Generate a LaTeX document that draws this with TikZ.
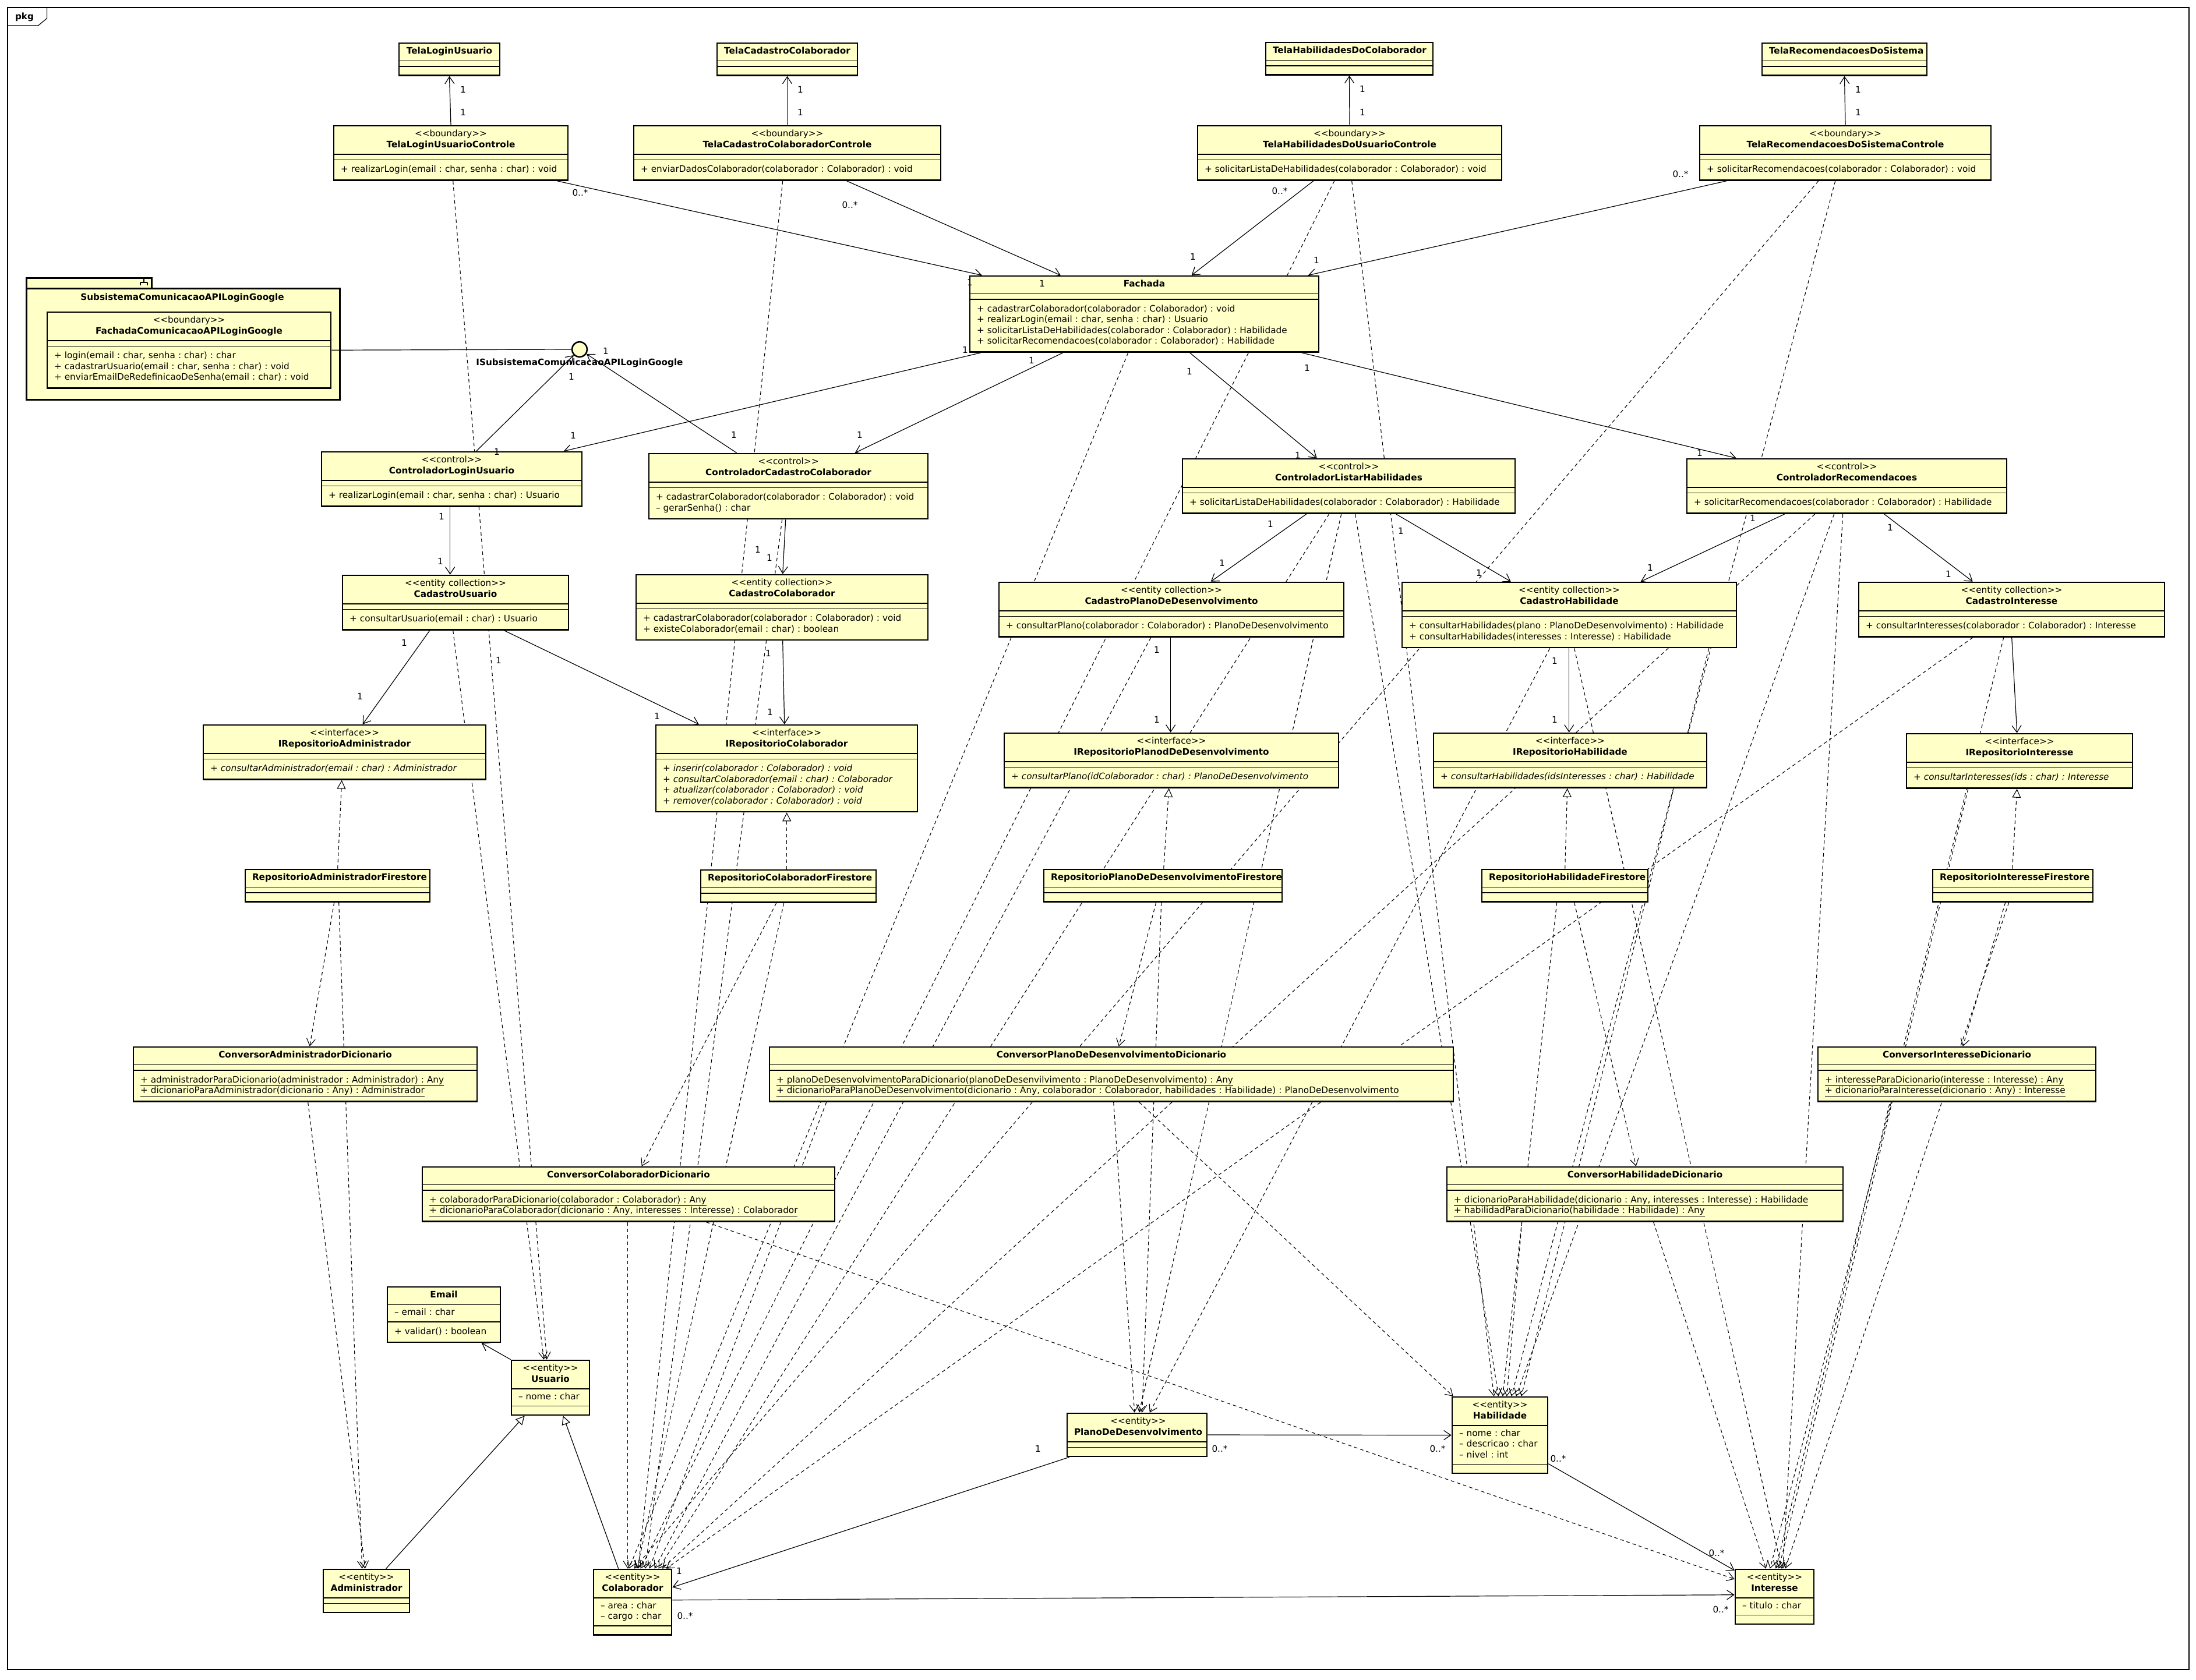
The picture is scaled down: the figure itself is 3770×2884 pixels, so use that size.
\documentclass[tikz,border=0pt]{standalone}
\usepackage{fontspec}
\setmainfont{DejaVu Sans}
\frenchspacing
\usetikzlibrary{arrows.meta,fit}

\definecolor{umlfill}{HTML}{FFFFC8}

\pgfdeclarelayer{back}
\pgfdeclarelayer{wires}
\pgfsetlayers{back,wires,main}

% stereotype guillemets written as two angle brackets
\newcommand\st[1]{<{}<#1>{}>}

% one compartment of a class box, stacked below node #2
\newcommand\umlpart[5]{%
  \if\relax\detokenize{#3}\relax
    \node[comp, text width=\umltw pt, inner ysep=0pt, minimum height=#5] (#1) at (#2.south west) {};
  \else
    \node[comp, align=left, text width=\umltw pt, inner ysep=#4] (#1) at (#2.south west)
      {\noindent\begin{tabular}{@{}l@{}}#3\end{tabular}};
  \fi}

% class box: id, left x, top y, width, header, attributes, operations
\newcommand\umlclass[7]{%
  \pgfmathsetmacro\umltw{#4-24}%
  \node[comp, align=center, text width=\umltw pt, inner ysep=6pt] (#1-h) at (#2,#3)
    {\noindent\begin{tabular}{@{}c@{}}#5\end{tabular}};
  \umlpart{#1-a}{#1-h}{#6}{5.5pt}{9.5pt}%
  \umlpart{#1-o}{#1-a}{#7}{8.25pt}{15.5pt}%
  \node[umlbox, fit=(#1-h)(#1-o)] (#1) {};
  \draw[umlsep] (#1-h.south west) -- (#1-h.south east) (#1-o.north west) -- (#1-o.north east);
}

% dependency from the bottom of #1 to the top of #3
\newcommand\dep[4]{\draw[dep] ([xshift=#2pt]#1.south west) -- ([xshift=#4pt]#3.north west);}
% multiplicity label
\newcommand\mult[3]{\node[mult] (#1) at (#2) {#3};}

\tikzset{
  every node/.style={font=\fontsize{15.25}{18.5}\selectfont},
  comp/.style={anchor=north west, fill=umlfill, inner xsep=12pt, outer sep=0pt},
  umlbox/.style={draw, line width=2.6pt, inner sep=0pt},
  umlsep/.style={line width=1.1pt},
  assoc/.style={line width=1.2pt, -{Straight Barb[length=12pt,width=16pt]}},
  plain/.style={line width=1.2pt},
  dep/.style={line width=1.1pt, dash pattern=on 6pt off 5pt, -{Straight Barb[length=12pt,width=15pt]}},
  real/.style={line width=1.1pt, dash pattern=on 6pt off 5pt, -{Triangle[open,fill=white,length=15pt,width=15pt]}},
  gen/.style={line width=1.2pt, -{Triangle[open,fill=white,length=15pt,width=15pt]}},
  mult/.style={inner sep=0pt},
}

\begin{document}
\begin{tikzpicture}[x=1pt,y=-1pt]
\useasboundingbox (0,0) rectangle (3770,2884);
\begin{pgfonlayer}{back}
  \fill[white] (0,0) rectangle (3770,2884);
  % package frame
  \draw[line width=1.2pt] (13,13) rectangle (3758,2867);
  \draw[line width=1.2pt] (13,44) -- (65.5,44) -- (80.6,31.5) -- (80.6,13);
\end{pgfonlayer}
\node (pkgname) at (42,29) {\textbf{pkg}};

% ---------- screens ----------
\umlclass{tlu}{685}{74}{173}{\textbf{TelaLoginUsuario}}{}{}
\umlclass{tcc}{1231}{74}{241}{\textbf{TelaCadastroColaborador}}{}{}
\umlclass{thc}{2173}{73}{287}{\textbf{TelaHabilidadesDoColaborador}}{}{}
\umlclass{trs}{3025}{74}{283}{\textbf{TelaRecomendacoesDoSistema}}{}{}

% ---------- boundary controllers ----------
\umlclass{tluc}{573}{216}{402}{\st{boundary}\\\textbf{TelaLoginUsuarioControle}}{}
  {+ realizarLogin(email : char, senha : char) : void}
\umlclass{tccc}{1088}{216}{527}{\st{boundary}\\\textbf{TelaCadastroColaboradorControle}}{}
  {+ enviarDadosColaborador(colaborador : Colaborador) : void}
\umlclass{thuc}{2056}{216}{522}{\st{boundary}\\\textbf{TelaHabilidadesDoUsuarioControle}}{}
  {+ solicitarListaDeHabilidades(colaborador : Colaborador) : void}
\umlclass{trsc}{2918}{216}{500}{\st{boundary}\\\textbf{TelaRecomendacoesDoSistemaControle}}{}
  {+ solicitarRecomendacoes(colaborador : Colaborador) : void}

% ---------- facade ----------
\umlclass{fac}{1665}{474}{599}{\textbf{Fachada}}{}
  {+ cadastrarColaborador(colaborador : Colaborador) : void\\
   + realizarLogin(email : char, senha : char) : Usuario\\
   + solicitarListaDeHabilidades(colaborador : Colaborador) : Habilidade\\
   + solicitarRecomendacoes(colaborador : Colaborador) : Habilidade}

% ---------- Google login subsystem ----------
\node[draw, fill=umlfill, line width=2.6pt, minimum width=215pt, minimum height=18pt,
      anchor=north west, inner sep=0pt] (subtab) at (44,476) {};
\node[draw, fill=umlfill, line width=2.6pt, minimum width=538pt, minimum height=191pt,
      anchor=north west, inner sep=0pt] (sub) at (44,494) {};
\draw[line width=1.2pt] (247,478) -- (247,485) (241,485) -- (253,485)
  (241,485) -- (241,490) (253,485) -- (253,490);
\node (subname) at (313,511) {\textbf{SubsistemaComunicacaoAPILoginGoogle}};
\umlclass{fcg}{81}{536}{487}{\st{boundary}\\\textbf{FachadaComunicacaoAPILoginGoogle}}{}
  {+ login(email : char, senha : char) : char\\
   + cadastrarUsuario(email : char, senha : char) : void\\
   + enviarEmailDeRedefinicaoDeSenha(email : char) : void}
\node[draw, circle, fill=umlfill, line width=2.6pt, minimum size=26pt, inner sep=0pt] (lol) at (995,600) {};
\node (lolname) at (995,623) {\textbf{ISubsistemaComunicacaoAPILoginGoogle}};
\draw[plain] (fcg.east) -- (lol.west);

% ---------- controllers ----------
\umlclass{clu}{552}{776}{447}{\st{control}\\\textbf{ControladorLoginUsuario}}{}
  {+ realizarLogin(email : char, senha : char) : Usuario}
\umlclass{ccc}{1114}{779}{479}{\st{control}\\\textbf{ControladorCadastroColaborador}}{}
  {+ cadastrarColaborador(colaborador : Colaborador) : void\\
   – gerarSenha() : char}
\umlclass{clh}{2030}{788}{571}{\st{control}\\\textbf{ControladorListarHabilidades}}{}
  {+ solicitarListaDeHabilidades(colaborador : Colaborador) : Habilidade}
\umlclass{cre}{2896}{788}{549}{\st{control}\\\textbf{ControladorRecomendacoes}}{}
  {+ solicitarRecomendacoes(colaborador : Colaborador) : Habilidade}

% ---------- entity collections ----------
\umlclass{cdu}{588}{988}{388}{\st{entity collection}\\\textbf{CadastroUsuario}}{}
  {+ consultarUsuario(email : char) : Usuario}
\umlclass{cdc}{1092}{987}{501}{\st{entity collection}\\\textbf{CadastroColaborador}}{}
  {+ cadastrarColaborador(colaborador : Colaborador) : void\\
   + existeColaborador(email : char) : boolean}
\umlclass{cdp}{1715}{1000}{592}{\st{entity collection}\\\textbf{CadastroPlanoDeDesenvolvimento}}{}
  {+ consultarPlano(colaborador : Colaborador) : PlanoDeDesenvolvimento}
\umlclass{cdh}{2407}{1000}{574}{\st{entity collection}\\\textbf{CadastroHabilidade}}{}
  {+ consultarHabilidades(plano : PlanoDeDesenvolvimento) : Habilidade\\
   + consultarHabilidades(interesses : Interesse) : Habilidade}
\umlclass{cdi}{3191}{1000}{525}{\st{entity collection}\\\textbf{CadastroInteresse}}{}
  {+ consultarInteresses(colaborador : Colaborador) : Interesse}

% ---------- repository interfaces ----------
\umlclass{ira}{349}{1245}{485}{\st{interface}\\\textbf{IRepositorioAdministrador}}{}
  {\textit{+ consultarAdministrador(email : char) : Administrador}}
\umlclass{irc}{1126}{1245}{449}{\st{interface}\\\textbf{IRepositorioColaborador}}{}
  {\textit{+ inserir(colaborador : Colaborador) : void}\\
   \textit{+ consultarColaborador(email : char) : Colaborador}\\
   \textit{+ atualizar(colaborador : Colaborador) : void}\\
   \textit{+ remover(colaborador : Colaborador) : void}}
\umlclass{irp}{1724}{1259}{574}{\st{interface}\\\textbf{IRepositorioPlanodDeDesenvolvimento}}{}
  {\textit{+ consultarPlano(idColaborador : char) : PlanoDeDesenvolvimento}}
\umlclass{irh}{2461}{1259}{469}{\st{interface}\\\textbf{IRepositorioHabilidade}}{}
  {\textit{+ consultarHabilidades(idsInteresses : char) : Habilidade}}
\umlclass{iri}{3273}{1260}{388}{\st{interface}\\\textbf{IRepositorioInteresse}}{}
  {\textit{+ consultarInteresses(ids : char) : Interesse}}

% ---------- Firestore repositories ----------
\umlclass{rfa}{421}{1493}{317}{\textbf{RepositorioAdministradorFirestore}}{}{}
\umlclass{rfc}{1203}{1494}{301}{\textbf{RepositorioColaboradorFirestore}}{}{}
\umlclass{rfp}{1792}{1493}{409}{\textbf{RepositorioPlanoDeDesenvolvimentoFirestore}}{}{}
\umlclass{rfh}{2544}{1493}{285}{\textbf{RepositorioHabilidadeFirestore}}{}{}
\umlclass{rfi}{3318}{1493}{275}{\textbf{RepositorioInteresseFirestore}}{}{}

% ---------- converters ----------
\umlclass{cva}{229}{1798}{590}{\textbf{ConversorAdministradorDicionario}}{}
  {\underline{+ administradorParaDicionario(administrador : Administrador) : Any}\\
   \underline{+ dicionarioParaAdministrador(dicionario : Any) : Administrador}}
\umlclass{cvp}{1321}{1798}{1174}{\textbf{ConversorPlanoDeDesenvolvimentoDicionario}}{}
  {\underline{+ planoDeDesenvolvimentoParaDicionario(planoDeDesenvilvimento : PlanoDeDesenvolvimento) : Any}\\
   \underline{+ dicionarioParaPlanoDeDesenvolvimento(dicionario : Any, colaborador : Colaborador, habilidades : Habilidade) : PlanoDeDesenvolvimento}}
\umlclass{cvi}{3121}{1798}{477}{\textbf{ConversorInteresseDicionario}}{}
  {\underline{+ interesseParaDicionario(interesse : Interesse) : Any}\\
   \underline{+ dicionarioParaInteresse(dicionario : Any) : Interesse}}
\umlclass{cvc}{725}{2004}{708}{\textbf{ConversorColaboradorDicionario}}{}
  {\underline{+ colaboradorParaDicionario(colaborador : Colaborador) : Any}\\
   \underline{+ dicionarioParaColaborador(dicionario : Any, interesses : Interesse) : Colaborador}}
\umlclass{cvh}{2484}{2004}{680}{\textbf{ConversorHabilidadeDicionario}}{}
  {\underline{+ dicionarioParaHabilidade(dicionario : Any, interesses : Interesse) : Habilidade}\\
   \underline{+ habilidadParaDicionario(habilidade : Habilidade) : Any}}

% ---------- entities ----------
\umlclass{eml}{665}{2210}{194}{\textbf{Email}}{– email : char}{+ validar() : boolean}
\umlclass{usu}{878}{2336}{134}{\st{entity}\\\textbf{Usuario}}{– nome : char}{}
\umlclass{adm}{555}{2695}{148}{\st{entity}\\\textbf{Administrador}}{}{}
\umlclass{col}{1019}{2695}{134}{\st{entity}\\\textbf{Colaborador}}{– area : char\\– cargo : char}{}
\umlclass{pla}{1832}{2427}{240}{\st{entity}\\\textbf{PlanoDeDesenvolvimento}}{}{}
\umlclass{hab}{2493}{2399}{164}{\st{entity}\\\textbf{Habilidade}}{– nome : char\\– descricao : char\\– nivel : int}{}
\umlclass{ints}{2979}{2695}{135}{\st{entity}\\\textbf{Interesse}}{– titulo : char}{}

% ---------- connectors ----------
\begin{pgfonlayer}{wires}
  % navigable associations
  \draw[assoc] (tluc.north) -- (tlu.south);
  \draw[assoc] (tccc.north) -- (tcc.south);
  \draw[assoc] (thuc.north) -- (thc.south);
  \draw[assoc] (trsc.north) -- (trs.south);
  \draw[assoc] ([xshift=385pt]tluc.south west) -- ([xshift=22pt]fac.north west);
  \draw[assoc] ([xshift=367pt]tccc.south west) -- ([xshift=157pt]fac.north west);
  \draw[assoc] ([xshift=200pt]thuc.south west) -- ([xshift=382pt]fac.north west);
  \draw[assoc] ([xshift=47pt]trsc.south west) -- ([xshift=582pt]fac.north west);
  \draw[assoc] ([xshift=20pt]fac.south west) -- ([xshift=417pt]clu.north west);
  \draw[assoc] ([xshift=161pt]fac.south west) -- ([xshift=355pt]ccc.north west);
  \draw[assoc] ([xshift=379pt]fac.south west) -- ([xshift=232pt]clh.north west);
  \draw[assoc] ([xshift=571pt]fac.south west) -- ([xshift=86pt]cre.north west);
  \draw[assoc] ([xshift=222pt]clu.south west) -- ([xshift=186pt]cdu.north west);
  \draw[assoc] ([xshift=236pt]ccc.south west) -- ([xshift=253pt]cdc.north west);
  \draw[assoc] ([xshift=151pt]cdu.south west) -- ([xshift=275pt]ira.north west);
  \draw[assoc] ([xshift=279pt]cdu.south west) -- ([xshift=75pt]irc.north west);
  \draw[assoc] ([xshift=253pt]cdc.south west) -- ([xshift=222pt]irc.north west);
  \draw[assoc] ([xshift=214pt]clh.south west) -- ([xshift=365pt]cdp.north west);
  \draw[assoc] ([xshift=368pt]clh.south west) -- ([xshift=188pt]cdh.north west);
  \draw[assoc] ([xshift=296pt]cdp.south west) -- ([xshift=287pt]irp.north west);
  \draw[assoc] ([xshift=288pt]cdh.south west) -- ([xshift=234pt]irh.north west);
  \draw[assoc] ([xshift=169pt]cre.south west) -- ([xshift=411pt]cdh.north west);
  \draw[assoc] ([xshift=340pt]cre.south west) -- ([xshift=197pt]cdi.north west);
  \draw[assoc] ([xshift=264pt]cdi.south west) -- ([xshift=191pt]iri.north west);
  \draw[assoc] ([xshift=267pt]clu.north west) -- (lol);
  \draw[assoc] ([xshift=152pt]ccc.north west) -- (lol);
  \draw[assoc] (usu.north west) -- ([xshift=163pt]eml.south west);
  \draw[assoc] (pla.east) -- (hab.west);
  \draw[assoc] ([xshift=5pt]pla.south west) -- ([yshift=-32pt]col.north east);
  \draw[assoc] ([yshift=-54pt]col.north east) -- ([yshift=-45pt]ints.north west);
  \draw[assoc] ([yshift=-116pt]hab.north east) -- ([yshift=-3pt]ints.north west);

  % realizations
  \draw[real] ([xshift=160pt]rfa.north west) -- ([xshift=239pt]ira.south west);
  \draw[real] ([xshift=149pt]rfc.north west) -- ([xshift=226pt]irc.south west);
  \draw[real] ([xshift=207pt]rfp.north west) -- ([xshift=284pt]irp.south west);
  \draw[real] ([xshift=144pt]rfh.north west) -- ([xshift=231pt]irh.south west);
  \draw[real] ([xshift=138pt]rfi.north west) -- ([xshift=191pt]iri.south west);

  % generalizations
  \draw[gen] ([xshift=109pt]adm.north west) -- ([xshift=24pt]usu.south west);
  \draw[gen] ([xshift=44pt]col.north west) -- ([xshift=90pt]usu.south west);

  % dependencies
  \dep{tluc}{206}{usu}{62}
  \dep{cdu}{191}{usu}{57}
  \dep{tccc}{257}{col}{78}
  \dep{ccc}{230}{col}{90}
  \dep{fac}{273}{col}{62}
  \dep{thuc}{236}{col}{82}
  \dep{trsc}{205}{col}{71}
  \dep{rfc}{144}{col}{76}
  \dep{cvc}{354}{col}{60}
  \dep{cdp}{262}{col}{106}
  \dep{cdi}{197}{col}{126}
  \dep{cre}{221}{col}{119}
  \dep{clh}{253}{col}{113}
  \dep{cvp}{99}{col}{97}
  \dep{rfc}{131}{cvc}{378}
  \dep{rfa}{154}{cva}{304}
  \dep{rfa}{162}{adm}{68}
  \dep{cva}{301}{adm}{73}
  \dep{clh}{274}{pla}{125}
  \dep{cdh}{255}{pla}{143}
  \dep{cvp}{592}{pla}{117}
  \dep{rfp}{203}{pla}{130}
  \dep{rfp}{194}{cvp}{601}
  \dep{thuc}{266}{hab}{73}
  \dep{trsc}{234}{hab}{103}
  \dep{clh}{298}{hab}{81}
  \dep{cre}{254}{hab}{111}
  \dep{cdh}{528}{hab}{120}
  \dep{cvp}{636}{hab}{3}
  \dep{cvh}{130}{hab}{95}
  \dep{rfh}{130}{hab}{88}
  \dep{rfh}{160}{cvh}{326}
  \dep{cdh}{297}{ints}{81}
  \dep{cdi}{250}{ints}{71}
  \dep{rfi}{126}{cvi}{250}
  \dep{rfi}{132}{ints}{87}
  \dep{cvi}{127}{ints}{61}
  \dep{cvh}{356}{ints}{54}
  \dep{cre}{269}{ints}{83}
  \dep{iri}{107}{ints}{76}
  \draw[dep] ([xshift=489pt]cvc.south west) -- ([yshift=-18pt]ints.north west);
\end{pgfonlayer}

% ---------- multiplicities ----------
\mult{m1}{795,154}{1}   \mult{m2}{795,193}{1}
\mult{m3}{1374,154}{1}  \mult{m4}{1374,193}{1}
\mult{m5}{2339,153}{1}  \mult{m6}{2339,193}{1}
\mult{m7}{3190,154}{1}  \mult{m8}{3190,193}{1}
\mult{m9}{996,331}{0..*}   \mult{m10}{1665,485}{1}
\mult{m11}{1459,352}{0..*} \mult{m12}{1789,487}{1}
\mult{m13}{2197,328}{0..*} \mult{m14}{2048,441}{1}
\mult{m15}{2885,299}{0..*} \mult{m16}{2260,447}{1}
\mult{m17}{1657,601}{1}  \mult{m18}{984,748}{1}
\mult{m19}{1771,619}{1}  \mult{m20}{1476,747}{1}
\mult{m21}{2042,638}{1}  \mult{m22}{2228,782}{1}
\mult{m23}{2244,632}{1}  \mult{m24}{2918,778}{1}
\mult{m25}{758,887}{1}   \mult{m26}{756,964}{1}
\mult{m27}{1301,944}{1}  \mult{m28}{1321,958}{1}
\mult{m29}{694,1104}{1}  \mult{m30}{618,1196}{1}
\mult{m31}{1128,1230}{1} \mult{m32}{856,1134}{1}
\mult{m33}{1319,1122}{1} \mult{m34}{1322,1223}{1}
\mult{m35}{2181,900}{1}  \mult{m36}{2098,967}{1}
\mult{m37}{2405,912}{1}  \mult{m38}{2539,984}{1}
\mult{m39}{1986,1116}{1} \mult{m40}{1986,1236}{1}
\mult{m41}{2669,1135}{1} \mult{m42}{2669,1236}{1}
\mult{m43}{3009,890}{1}  \mult{m44}{2833,975}{1}
\mult{m45}{3245,906}{1}  \mult{m46}{3345,986}{1}
\mult{m47}{853,776}{1}   \mult{m48}{981,647}{1}
\mult{m49}{1260,747}{1}  \mult{m50}{1040,603}{1}
\mult{m51}{2094,2488}{0..*} \mult{m52}{2468,2488}{0..*}
\mult{m53}{1782,2488}{1}    \mult{m54}{1166,2698}{1}
\mult{m55}{1176,2775}{0..*} \mult{m56}{2954,2764}{0..*}
\mult{m57}{2675,2505}{0..*} \mult{m58}{2947,2667}{0..*}
\end{tikzpicture}
\end{document}
